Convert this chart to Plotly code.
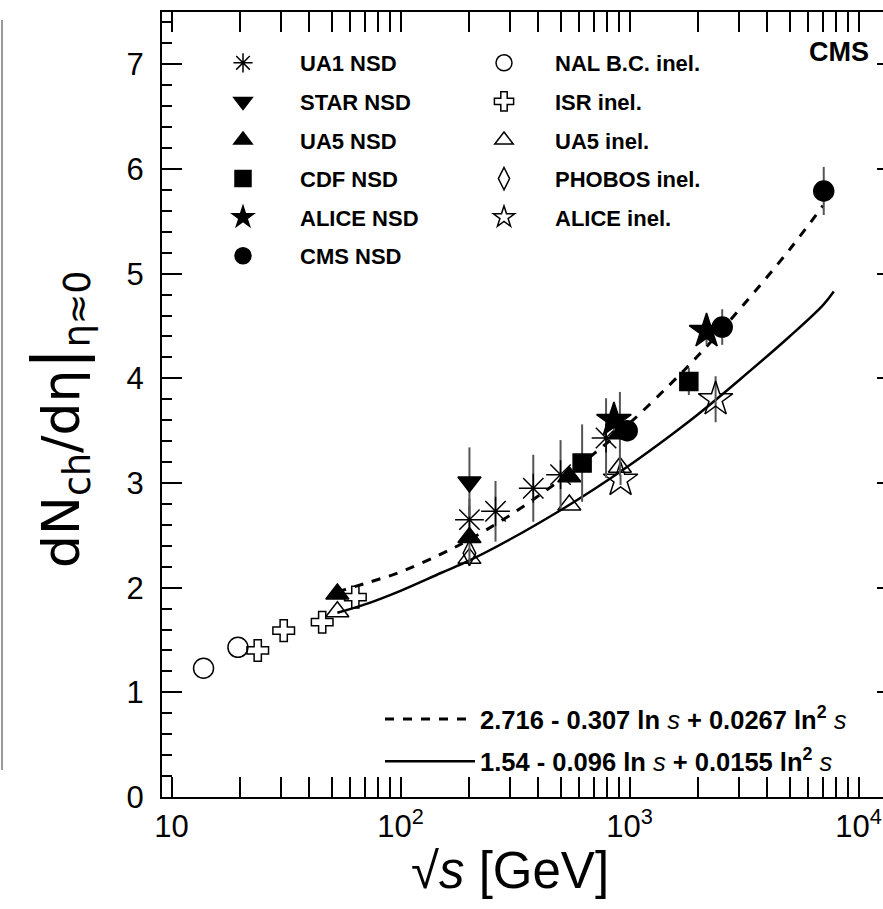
import plotly.graph_objects as go

# ---------------- data ----------------
ua1_x = [200, 260, 380, 500, 790]
ua1_y = [2.65, 2.73, 2.95, 3.08, 3.43]
ua1_err = [0.20, 0.29, 0.32, 0.33, 0.38]

star_x = [200]
star_y = [3.01]
star_err = [0.33]

ua5_nsd_x = [53, 200, 546, 908]
ua5_nsd_y = [1.94, 2.48, 3.06, 3.47]
ua5_nsd_err = [0.03, 0.03, 0.03, 0.40]

cdf_x = [621, 1816]
cdf_y = [3.19, 3.97]
cdf_err = [0.37, 0.13]

alice_nsd_x = [855, 2170]
alice_nsd_y = [3.60, 4.45]
alice_nsd_err = [0.10, 0.13]

cms_x = [977, 2540, 7050]
cms_y = [3.50, 4.49, 5.79]
cms_err = [0.10, 0.17, 0.23]

nal_x = [13.8, 19.5]
nal_y = [1.23, 1.43]

isr_x = [23.8, 30.9, 45.5, 63.5]
isr_y = [1.40, 1.59, 1.67, 1.91]

ua5_inel_x = [53, 200, 546, 908]
ua5_inel_y = [1.77, 2.28, 2.79, 3.15]

phobos_x = [200]
phobos_y = [2.33]
phobos_err = [0.12]

alice_inel_x = [914, 2377]
alice_inel_y = [3.03, 3.80]
alice_inel_err = [0.05, 0.22]

# fit curves
fit_nsd_x = [53, 70, 100, 150, 200, 300, 500, 700, 1000, 1500, 2000, 3000, 5000, 7000]
fit_nsd_y = [1.96, 2.04, 2.15, 2.32, 2.46, 2.69, 3.03, 3.28, 3.57, 3.94, 4.22, 4.65, 5.23, 5.65]
fit_inel_x = [53, 70, 100, 150, 200, 300, 500, 700, 1000, 1500, 2000, 3000, 5000, 7000, 7800]
fit_inel_y = [1.76, 1.84, 1.97, 2.14, 2.26, 2.46, 2.74, 2.94, 3.17, 3.45, 3.66, 3.98, 4.40, 4.70, 4.83]

fit_nsd_label = "<b>2.716 - 0.307 ln </b><i>s</i><b> + 0.0267 ln<sup>2</sup> </b><i>s</i>"
fit_inel_label = "<b>1.54 - 0.096 ln </b><i>s</i><b> + 0.0155 ln<sup>2</sup> </b><i>s</i>"

x_tickvals = [10, 100, 1000, 10000]
x_ticktext = ["10", "10<sup>2</sup>", "10<sup>3</sup>", "10<sup>4</sup>"]
y_tickvals = [0, 1, 2, 3, 4, 5, 6, 7]

FONT = "Liberation Sans, Arial, Helvetica, sans-serif"
WIDE = "DejaVu Sans, Liberation Sans, sans-serif"
BLACK = "black"
ERRC = "#555555"

fig = go.Figure()

# fit lines
fig.add_trace(go.Scatter(x=fit_nsd_x, y=fit_nsd_y, mode="lines", line=dict(color=BLACK, width=3, dash="dash", shape="spline"),
                         name=fit_nsd_label, legend="legend3", legendrank=1, legendgroup="fit1"))
fig.add_trace(go.Scatter(x=fit_inel_x, y=fit_inel_y, mode="lines", line=dict(color=BLACK, width=2.5, shape="spline"),
                         name=fit_inel_label, legend="legend3", legendrank=2, legendgroup="fit2"))


def add_pts(x, y, err, name, symbol, size, legend, rank, lw=1.5):
    kw = {}
    if err is not None:
        kw["error_y"] = dict(type="data", array=err, visible=True, color=ERRC, thickness=2, width=0)
    fig.add_trace(go.Scatter(
        x=x, y=y, mode="markers", name="<b>%s</b>" % name,
        marker=dict(symbol=symbol, size=size, color=BLACK, line=dict(color=BLACK, width=lw)),
        legend=legend, legendrank=rank, legendgroup=name, **kw))


# open (inelastic) points
add_pts(nal_x, nal_y, None, "NAL B.C. inel.", "circle-open", 20, "legend2", 1)
add_pts(isr_x, isr_y, None, "ISR inel.", "cross-open", 18, "legend2", 2)
add_pts(ua5_inel_x, ua5_inel_y, None, "UA5 inel.", "triangle-up-open", 20, "legend2", 3)
add_pts(phobos_x, phobos_y, phobos_err, "PHOBOS inel.", "diamond-tall-open", 18, "legend2", 4)
add_pts(alice_inel_x, alice_inel_y, alice_inel_err, "ALICE inel.", "star-open", 26, "legend2", 5)
# NSD points
add_pts(ua1_x, ua1_y, ua1_err, "UA1 NSD", "asterisk-open", 24, "legend", 1)
add_pts(star_x, star_y, star_err, "STAR NSD", "triangle-down", 20, "legend", 2)
add_pts(ua5_nsd_x, ua5_nsd_y, ua5_nsd_err, "UA5 NSD", "triangle-up", 20, "legend", 3)
add_pts(cdf_x, cdf_y, cdf_err, "CDF NSD", "square", 18, "legend", 4)
add_pts(alice_nsd_x, alice_nsd_y, alice_nsd_err, "ALICE NSD", "star", 26, "legend", 5)
add_pts(cms_x, cms_y, cms_err, "CMS NSD", "circle", 20, "legend", 6)

# right-hand axis stub ticks
fig.add_trace(go.Scatter(x=[None], y=[None], yaxis="y2", showlegend=False, hoverinfo="skip"))

L, R, T, B = 162, 0, 12, 112
W, H = 883, 909
pw, ph = W - L - R, H - T - B


def px(xp):
    return (xp - L) / pw


def py(yp):
    return (H - B - yp) / ph


legend_font = dict(family=FONT, size=22, color=BLACK)
fig.update_layout(
    width=W, height=H,
    margin=dict(l=L, r=R, t=T, b=B, pad=0),
    paper_bgcolor="white", plot_bgcolor="white",
    showlegend=True,
    legend=dict(x=px(186), y=py(42), xanchor="left", yanchor="top", font=legend_font, bgcolor="rgba(0,0,0,0)",
                itemwidth=104, tracegroupgap=7, traceorder="grouped", itemsizing="trace"),
    legend2=dict(x=px(453), y=py(42), xanchor="left", yanchor="top", font=legend_font, bgcolor="rgba(0,0,0,0)",
                 itemwidth=92, tracegroupgap=7, traceorder="grouped", itemsizing="trace"),
    legend3=dict(x=px(380), y=py(696), xanchor="left", yanchor="top", font=dict(family=FONT, size=25.5, color=BLACK),
                 bgcolor="rgba(0,0,0,0)", itemwidth=90, tracegroupgap=6, traceorder="grouped"),
    xaxis=dict(type="log", range=[0.9585, 4.107], tickvals=x_tickvals, ticktext=x_ticktext,
               ticks="inside", ticklen=20, tickwidth=1.5, tickcolor=BLACK,
               minor=dict(dtick="D1", ticks="inside", ticklen=10, tickwidth=1.5, tickcolor=BLACK),
               showline=True, linecolor=BLACK, linewidth=2, mirror="allticks", showgrid=False, zeroline=False,
               tickfont=dict(family=FONT, size=31, color=BLACK), ticklabelstandoff=1),
    yaxis=dict(range=[0, 7.5], tickvals=y_tickvals, ticks="inside", ticklen=20, tickwidth=1.5, tickcolor=BLACK,
               minor=dict(dtick=0.2, ticks="inside", ticklen=10, tickwidth=1.5, tickcolor=BLACK),
               showline=True, linecolor=BLACK, linewidth=2, mirror=False, showgrid=False, zeroline=False,
               tickfont=dict(family=FONT, size=31, color=BLACK), ticklabelstandoff=10),
    yaxis2=dict(range=[0, 7.5], overlaying="y", side="right", tickvals=y_tickvals, ticks="inside", ticklen=6,
                tickwidth=1.5, tickcolor=BLACK, showticklabels=False, showline=False, showgrid=False, zeroline=False),
    annotations=[
        dict(text="<b>CMS</b>", x=px(871), y=py(52), xref="paper", yref="paper", xanchor="right", yanchor="middle",
             showarrow=False, font=dict(family=FONT, size=27, color=BLACK)),
        dict(text="dN<sub>ch</sub>/dη<span style='font-size:66px'>|</span><sub>η≈0</sub>",
             x=px(58), y=py(420), xref="paper", yref="paper", xanchor="center", yanchor="middle",
             textangle=-90, showarrow=False, font=dict(family=WIDE, size=52, color=BLACK)),
        dict(text="√<i>s</i> [GeV]", x=px(510), y=py(870), xref="paper", yref="paper", xanchor="center",
             yanchor="middle", showarrow=False, font=dict(family=FONT, size=51, color=BLACK)),
    ],
    shapes=[dict(type="line", xref="paper", yref="paper", x0=px(2), x1=px(2), y0=py(20), y1=py(770),
                 line=dict(color="#999999", width=2))],
)

fig.write_html("out.html")
